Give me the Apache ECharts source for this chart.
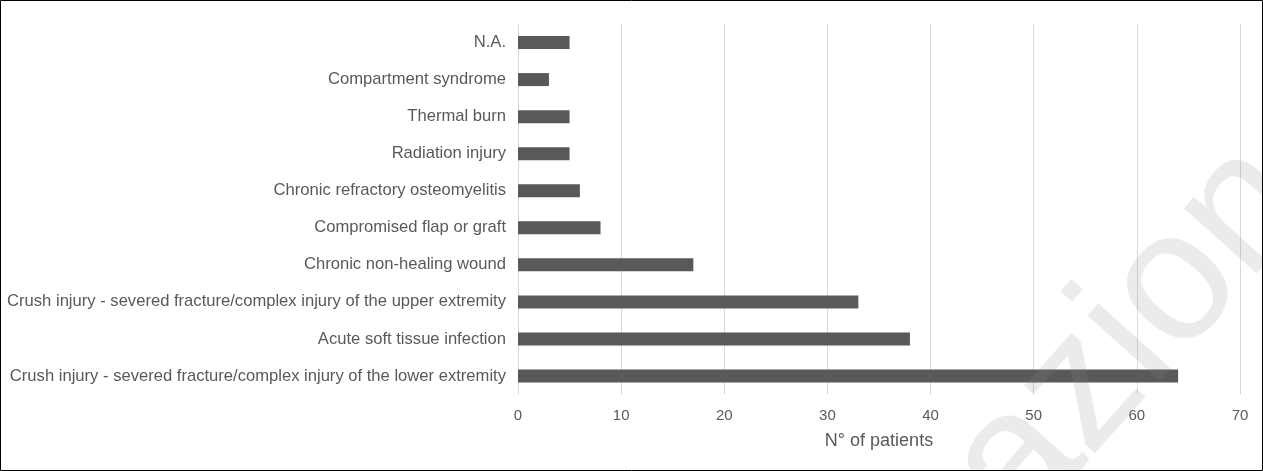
<!DOCTYPE html>
<html>
<head>
<meta charset="utf-8">
<script src="https://cdn.jsdelivr.net/npm/echarts@6/dist/echarts.min.js"></script>
<style>
html,body{margin:0;padding:0;background:#fff;}
#chart{width:1263px;height:471px;}
</style>
</head>
<body>
<div id="chart"></div>
<script>
const categories = [
  "Crush injury - severed fracture/complex injury of the lower extremity",
  "Acute soft tissue infection",
  "Crush injury - severed fracture/complex injury of the upper extremity",
  "Chronic non-healing wound",
  "Compromised flap or graft",
  "Chronic refractory osteomyelitis",
  "Radiation injury",
  "Thermal burn",
  "Compartment syndrome",
  "N.A."
];
const patients = [64, 38, 33, 17, 8, 6, 5, 5, 3, 5];
const xTicks = { min: 0, max: 70, interval: 10 };
const xTitle = "N° of patients";
const watermarkText = "azione";

const chart = echarts.init(document.getElementById('chart'), null, {renderer: 'canvas'});
chart.setOption({
  backgroundColor: '#ffffff',
  animation: false,
  textStyle: { fontFamily: 'Liberation Sans, Arial, sans-serif' },
  grid: { left: 518, right: 23, top: 24, bottom: 76.5, containLabel: false },
  xAxis: {
    type: 'value',
    min: xTicks.min, max: xTicks.max, interval: xTicks.interval,
    axisLine: { show: false },
    axisTick: { show: false },
    splitLine: { show: true, lineStyle: { color: '#d9d9d9', width: 1 } },
    axisLabel: { color: '#595959', fontSize: 15, margin: 14 },
    name: xTitle,
    nameLocation: 'middle',
    nameGap: 38,
    nameTextStyle: { color: '#595959', fontSize: 18 }
  },
  yAxis: {
    type: 'category',
    data: categories,
    axisLine: { show: true, lineStyle: { color: '#d9d9d9', width: 1 } },
    axisTick: { show: false },
    axisLabel: { color: '#595959', fontSize: 16.6, margin: 12 }
  },
  series: [{
    type: 'bar',
    data: patients,
    barWidth: 13,
    itemStyle: { color: '#595959' }
  }],
  graphic: [{
    type: 'text',
    x: 983, y: 501,
    rotation: 48 * Math.PI / 180,
    z: 100,
    silent: true,
    style: {
      text: watermarkText,
      font: '185px "Liberation Sans", Arial, sans-serif',
      fill: 'rgba(139,139,139,0.17)',
      align: 'left',
      verticalAlign: 'middle'
    }
  }, {
    type: 'rect',
    z: 101,
    shape: { x: 0.5, y: 0.5, width: 1262, height: 470 },
    style: { fill: 'none', stroke: '#000', lineWidth: 1 },
    silent: true
  }]
});
</script>
</body>
</html>
